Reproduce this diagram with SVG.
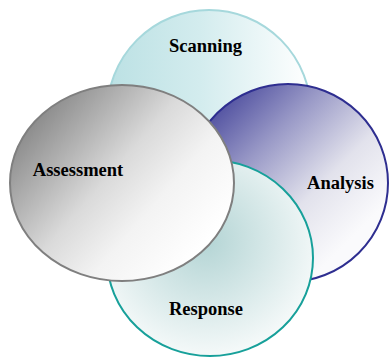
<svg xmlns="http://www.w3.org/2000/svg" width="389" height="358" viewBox="0 0 389 358">
<style>
text{font-family:"Liberation Serif","Times New Roman",serif;font-weight:bold;font-size:18.5px;fill:#000;text-anchor:middle}
</style>
<defs>
<linearGradient id="gScan" gradientUnits="userSpaceOnUse" x1="110" y1="60" x2="310" y2="60">
<stop offset="0" stop-color="#BCE1E4"/><stop offset="0.45" stop-color="#D3ECEE"/><stop offset="1" stop-color="#FFFFFF"/>
</linearGradient>
<linearGradient id="gAna" gradientUnits="userSpaceOnUse" x1="205" y1="105" x2="345" y2="245">
<stop offset="0" stop-color="#45459A"/><stop offset="0.35" stop-color="#9898C6"/><stop offset="0.7" stop-color="#E2E2EC"/><stop offset="1" stop-color="#FAFAFC"/>
</linearGradient>
<radialGradient id="gResp" gradientUnits="userSpaceOnUse" cx="205" cy="240" r="125">
<stop offset="0" stop-color="#B3D4D4"/><stop offset="0.5" stop-color="#D6E8E8"/><stop offset="1" stop-color="#FAFCFC"/>
</radialGradient>
<linearGradient id="gAss" gradientUnits="userSpaceOnUse" x1="40" y1="110" x2="200" y2="250">
<stop offset="0" stop-color="#8A8A8A"/><stop offset="0.25" stop-color="#B6B6B6"/><stop offset="0.45" stop-color="#DADADA"/><stop offset="0.7" stop-color="#F3F3F3"/><stop offset="1" stop-color="#FFFFFF"/>
</linearGradient>
</defs>
<g id="scanning">
<ellipse cx="209" cy="113" rx="102" ry="103" fill="url(#gScan)" stroke="#A6D8DC" stroke-width="2"/>
<text x="205.5" y="52">Scanning</text>
</g>
<g id="analysis">
<ellipse cx="288" cy="183" rx="100" ry="99" fill="url(#gAna)" stroke="#2E2E90" stroke-width="2"/>
<text x="340.5" y="189">Analysis</text>
</g>
<g id="response">
<ellipse cx="210" cy="258" rx="103" ry="98" fill="url(#gResp)" stroke="#17A09A" stroke-width="2"/>
<text x="206" y="315">Response</text>
</g>
<g id="assessment">
<ellipse cx="122" cy="183" rx="112" ry="98" fill="url(#gAss)" stroke="#7F7F7F" stroke-width="2"/>
<text x="78" y="176">Assessment</text>
</g>
<g id="connectors"/>
</svg>
